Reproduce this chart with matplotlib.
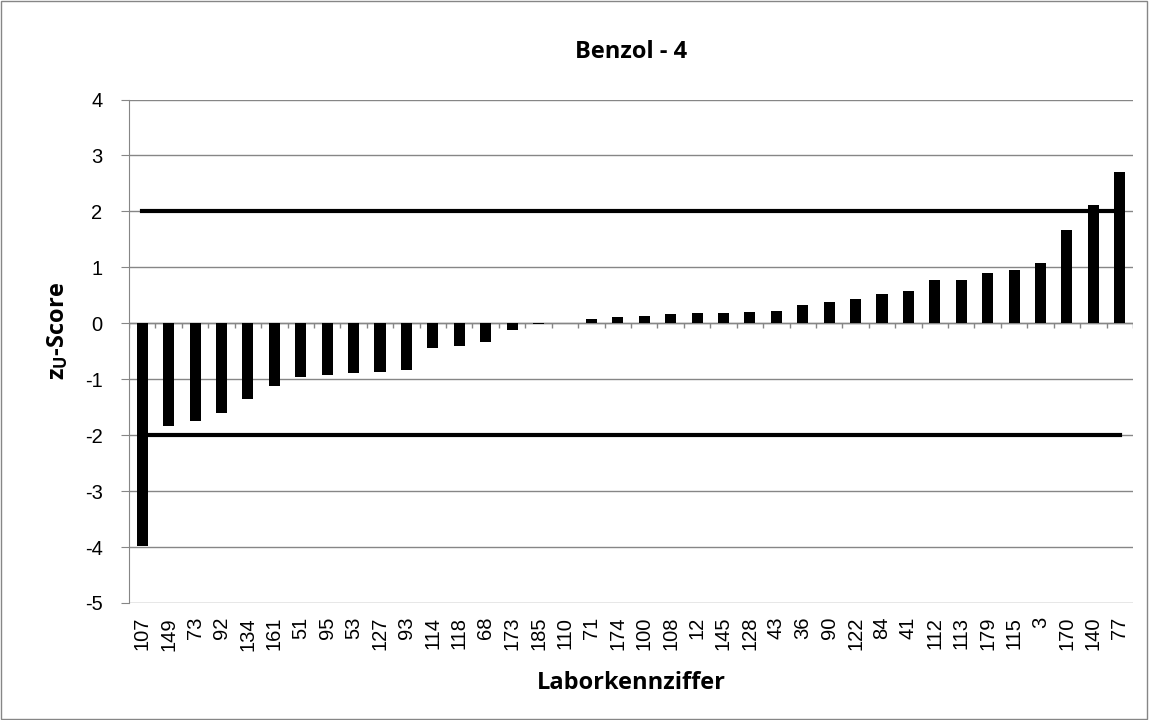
import numpy as np
import matplotlib.pyplot as plt
from matplotlib.patches import Rectangle

plt.rcParams['font.family'] = ['Liberation Sans', 'DejaVu Sans']
plt.rcParams['mathtext.default'] = 'regular'

# Laborkennziffer und z_U-Score
labs = ['107', '149', '73', '92', '134', '161', '51', '95', '53', '127', '93',
        '114', '118', '68', '173', '185', '110', '71', '174', '100', '108', '12',
        '145', '128', '43', '36', '90', '122', '84', '41', '112', '113', '179',
        '115', '3', '170', '140', '77']
scores = [-3.99, -1.84, -1.75, -1.60, -1.35, -1.12, -0.96, -0.92, -0.88, -0.87,
          -0.83, -0.44, -0.41, -0.34, -0.12, -0.01, 0.0, 0.07, 0.11, 0.125, 0.17,
          0.18, 0.19, 0.21, 0.22, 0.32, 0.38, 0.43, 0.53, 0.57, 0.77, 0.77, 0.89,
          0.96, 1.07, 1.67, 2.12, 2.70]
limit = 2
yticks = list(range(-5, 5))

grey = '#868686'
bold = ['Open Sans', 'DejaVu Sans']
W, H = 1149, 720
fig = plt.figure(figsize=(W / 100, H / 100), dpi=100)
ax = fig.add_axes([129 / W, 1 - 603 / H, (1133 - 129) / W, (603 - 99.5) / H])

x = np.arange(len(labs))
ax.bar(x, scores, width=0.42, color='black', zorder=3)

# Grenzlinien +-2
ax.plot([x[0], x[-1]], [limit, limit], color='black', lw=3, zorder=4)
ax.plot([x[0], x[-1]], [-limit, -limit], color='black', lw=3, zorder=4)

ax.set_xlim(-0.5, len(labs) - 0.5)
ax.set_ylim(-5, 4)
ax.set_yticks(yticks)
ax.set_yticklabels([str(t) for t in yticks], fontsize=14.5)
ax.yaxis.grid(True, color=grey, lw=1, zorder=0)

# Kategorienachse bei 0
ax.axhline(0, color=grey, lw=1, zorder=2)
ax.vlines(np.arange(len(labs) + 1) - 0.5, -0.08, 0, color=grey, lw=1, zorder=2)

ax.set_xticks(x)
ax.set_xticklabels(labs, rotation=90, fontsize=14.5)
ax.tick_params(axis='x', length=0, pad=10)
ax.tick_params(axis='y', length=6, color=grey, pad=13)

for s in ['top', 'right', 'bottom']:
    ax.spines[s].set_visible(False)
ax.spines['left'].set_color(grey)

fig.text((129 + 1133) / 2 / W, 1 - 52 / H, 'Benzol - 4', fontsize=17,
         fontweight='bold', family=bold, ha='center', va='center')
fig.text((129 + 1133) / 2 / W, 1 - 683 / H, 'Laborkennziffer', fontsize=17,
         fontweight='bold', family=bold, ha='center', va='center')
fig.text(58 / W, 1 - 331 / H, 'z$_{U}$-Score', fontsize=17, rotation=90,
         fontweight='bold', family=bold, ha='center', va='center')

fig.patches.append(Rectangle((0.001, 0.001), 0.997, 0.997, transform=fig.transFigure,
                             fill=False, edgecolor=grey, lw=1))

fig.savefig('out.png', dpi=100)
